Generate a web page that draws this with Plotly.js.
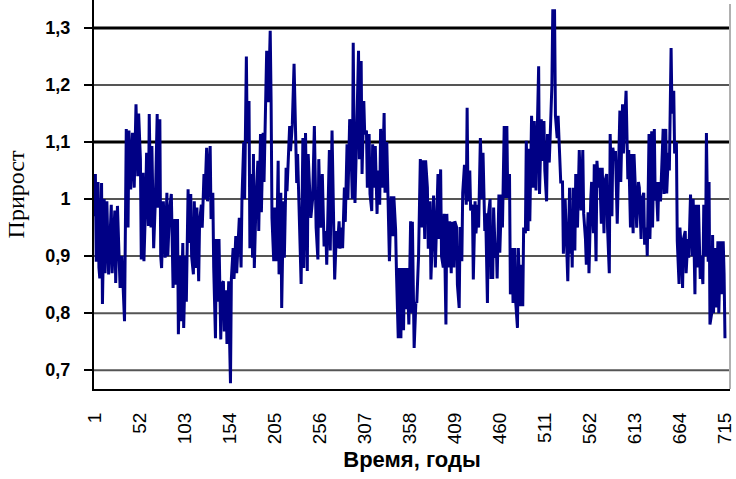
<!DOCTYPE html>
<html>
<head>
<meta charset="utf-8">
<script src="https://cdn.plot.ly/plotly-3.0.1.min.js"></script>
<style>html,body{margin:0;padding:0;background:#fff;}#chart{width:736px;height:479px;}</style>
</head>
<body>
<div id="chart"></div>
<script>
// Годы (категории оси X)
const years = [
1,2,3,5,6,7,9,10,12,13,15,17,20,21,24,25,27,30,32,35,36,37,39,40,42,44,46,48,50,51,53,54,56,57,59,60,62,63,65,66,68,70,72,73,75,76,77,79,81,83,84,86,88,90,
91,92,93,95,96,98,99,101,102,104,105,107,108,110,111,113,114,116,117,119,120,122,123,125,126,128,129,131,132,133,135,136,138,139,141,142,144,145,147,148,150,151,153,154,155,156,158,159,161,162,164,165,167,168,170,171,173,174,176,177,179,180,
181,182,184,186,187,189,190,192,193,195,196,198,200,201,202,204,205,207,209,210,212,213,215,216,218,219,222,223,225,227,228,230,231,233,235,237,238,240,242,243,246,248,250,252,254,255,257,259,261,263,264,267,268,270,
271,272,273,275,276,278,279,281,282,284,285,287,288,290,291,293,294,295,296,298,300,301,303,304,306,307,309,310,312,313,315,316,318,319,321,322,324,325,327,329,330,332,333,335,337,339,340,342,343,345,346,348,349,351,352,354,355,357,359,360,
361,362,363,365,366,368,369,370,372,373,375,376,378,379,381,382,384,385,387,388,390,391,393,394,396,397,399,400,402,403,405,406,408,409,411,412,414,415,417,418,420,422,423,424,426,427,429,430,432,433,435,436,438,440,441,443,444,446,447,449,450,
451,452,453,455,456,457,459,460,462,463,465,466,468,469,471,472,474,475,477,478,480,481,483,484,486,487,489,490,492,493,494,496,498,499,501,502,504,505,507,508,510,511,513,514,516,517,519,520,522,523,525,526,528,529,531,532,534,535,537,539,540,
541,542,543,545,546,548,550,552,554,555,557,558,560,561,563,564,566,567,569,570,572,573,575,576,578,579,581,582,584,585,587,588,590,591,593,594,596,597,599,600,602,603,605,606,608,609,611,612,614,615,617,618,620,621,623,624,626,627,629,630,
631,632,633,635,636,637,639,640,642,643,645,646,648,649,651,652,654,655,657,658,660,661,663,664,666,667,668,670,671,673,674,676,678,679,681,682,684,685,687,688,690,691,693,694,696,697,698,700,701,702,704,705,707,708,710,711,713,714,715
];
// Прирост
const growth = [
0.97,1.044,0.89,1.03,0.88,0.861,1.028,0.816,1.0,0.87,0.996,0.868,0.99,0.87,0.98,0.853,0.988,0.844,0.90,0.786,0.95,1.123,0.95,1.12,1.017,1.116,1.02,1.166,1.04,1.15,1.07,0.894,1.046,0.891,1.0,1.081,0.953,1.149,0.95,1.093,0.914,1.0,1.149,0.985,1.14,0.90,0.879,0.996,0.897,1.011,0.90,0.98,1.009,0.844,
0.90,0.965,0.85,0.965,0.763,0.90,0.786,0.923,0.774,0.90,0.82,1.017,0.923,1.009,0.90,0.868,0.996,0.879,0.985,0.856,0.96,0.99,0.95,1.044,1.0,1.09,0.996,1.085,1.093,0.965,1.011,0.88,0.756,0.93,0.82,0.93,0.754,0.85,0.856,0.768,0.84,0.746,0.856,0.75,0.677,0.86,0.914,0.86,0.935,0.87,0.95,0.967,0.88,1.0,1.1,1.0,1.25,1.10,1.172,0.914,1.044,0.897,
1.079,0.879,1.0,1.067,0.944,1.114,0.977,1.116,1.03,1.16,1.26,1.17,1.295,1.172,0.967,0.891,0.985,0.891,1.067,0.868,1.011,0.809,0.996,0.897,1.055,1.014,1.128,1.084,1.13,1.237,1.15,1.028,1.079,0.95,0.851,1.107,0.879,1.116,0.874,1.079,0.967,1.0,1.128,0.95,0.894,1.07,0.95,1.044,0.917,0.944,0.885,1.086,0.91,1.12,
1.0,0.90,0.859,0.944,0.914,0.961,0.913,0.95,0.914,1.02,0.96,1.096,0.999,1.14,1.114,1.0,1.274,1.10,0.993,1.12,1.26,1.07,1.242,1.044,1.172,1.114,1.12,1.02,1.114,1.009,0.979,1.096,1.02,1.093,0.974,1.05,0.99,1.123,1.02,1.151,1.011,1.10,1.012,0.891,1.005,0.935,1.005,0.947,0.87,0.756,0.879,0.756,0.879,0.77,0.879,0.807,0.879,0.78,0.961,0.80,
0.96,0.88,0.739,0.82,0.818,0.90,0.97,1.07,0.95,1.068,0.93,1.068,1.02,0.913,0.996,0.859,0.95,1.006,0.88,0.951,1.044,0.93,1.052,0.90,0.88,0.974,0.78,0.974,0.88,0.961,0.87,0.96,0.88,0.961,0.951,0.85,0.809,0.951,0.891,1.011,1.06,0.99,1.16,0.996,1.05,0.98,0.99,0.859,0.996,0.94,0.99,0.95,1.107,1.0,1.081,0.944,0.975,0.818,0.97,1.0,0.86,
0.95,0.86,0.985,0.897,0.92,0.861,1.008,0.906,1.008,0.95,1.128,1.002,1.128,1.002,1.044,0.833,0.914,0.818,0.914,0.82,0.774,0.914,0.812,0.885,0.812,0.95,0.94,1.102,0.944,1.088,0.961,1.146,1.02,1.137,1.015,1.10,1.233,1.009,1.14,1.067,1.137,1.05,0.996,1.114,1.064,1.107,1.20,1.33,1.33,1.146,1.107,1.146,1.046,1.03,1.03,0.904,1.0,0.961,0.856,1.02,0.904,
0.96,0.88,1.02,0.91,1.044,0.95,1.086,0.98,1.086,0.974,0.93,0.885,0.977,0.87,1.0,1.03,0.94,1.061,0.891,1.067,1.02,1.055,0.957,1.055,0.94,1.03,1.044,0.95,0.87,1.114,0.97,1.09,1.067,1.084,0.957,1.03,1.155,1.03,1.166,1.08,1.166,1.19,1.035,1.086,0.95,1.079,0.94,1.079,1.0,0.95,1.03,1.02,0.93,1.0,1.011,0.92,0.95,0.90,1.114,0.93,
1.0,1.119,0.95,1.123,0.997,1.03,0.961,1.03,0.996,1.03,1.123,1.009,1.123,1.01,1.081,1.05,1.265,1.15,1.19,1.08,1.1,0.926,0.851,0.95,0.897,0.844,0.93,0.944,0.87,0.93,0.897,1.008,0.90,1.0,0.833,0.99,0.88,0.99,0.86,0.90,0.851,0.99,0.90,1.116,0.89,1.03,0.78,0.80,0.937,0.80,0.914,0.81,0.926,0.80,0.926,0.833,0.926,0.87,0.756
];
// Подписи делений
const xTickVals = [1,52,103,154,205,256,307,358,409,460,511,562,613,664,715];
const yTickVals = [0.7,0.8,0.9,1.0,1.1,1.2,1.3];
const yTickText = ['0,7','0,8','0,9','1','1,1','1,2','1,3'];
const boldGrid = [1.3,1.1];

// gridlines drawn as shapes below the trace: 1,3 and 1,1 are heavier and black
const shapes = yTickVals.map(v => {
  const bold = boldGrid.includes(v);
  return {type:'line', xref:'paper', x0:0, x1:1, yref:'y', y0:v, y1:v,
    line:{color: bold ? '#000' : '#555', width: bold ? 3 : 2}, layer:'below'};
});
shapes.push({type:'line', xref:'paper', x0:1, x1:1, yref:'paper', y0:0, y1:0.99, line:{color:'#b0b0b0', width:2}});

const trace = {
  x: years, y: growth, type:'scatter', mode:'lines',
  line:{color:'#000085', width:3}, hoverinfo:'skip'
};

const layout = {
  width:736, height:479,
  margin:{l:94, r:6, t:0, b:90},
  paper_bgcolor:'#fff', plot_bgcolor:'rgba(0,0,0,0)',
  separators:', ',
  showlegend:false,
  shapes: shapes,
  xaxis:{
    range:[0.44, 720.7],
    tickvals: xTickVals, ticktext: xTickVals.map(String),
    tickangle:-90, ticks:'', showgrid:false, zeroline:false,
    showline:true, linecolor:'#000', linewidth:2,
    tickfont:{family:'Liberation Sans, Arial, sans-serif', size:19, color:'#000'},
    ticklabelstandoff:14, ticklabeloverflow:'allow',
    title:{text:'Время, годы', font:{family:'Liberation Sans, Arial, sans-serif', size:22, color:'#000', weight:'bold'}, standoff:8}
  },
  yaxis:{
    range:[0.667, 1.349],
    tickvals: yTickVals, ticktext: yTickText,
    ticks:'outside', ticklen:8, tickwidth:2, tickcolor:'#000',
    showgrid:false, zeroline:false,
    showline:true, linecolor:'#000', linewidth:2,
    tickfont:{family:'Liberation Sans, Arial, sans-serif', size:18, color:'#000', weight:'bold'},
    ticklabelstandoff:10,
    title:{text:'Прирост', font:{family:'Liberation Serif, Times New Roman, serif', size:24, color:'#000'}, standoff:14}
  }
};

Plotly.newPlot('chart', [trace], layout, {staticPlot:true, displayModeBar:false});
</script>
</body>
</html>
